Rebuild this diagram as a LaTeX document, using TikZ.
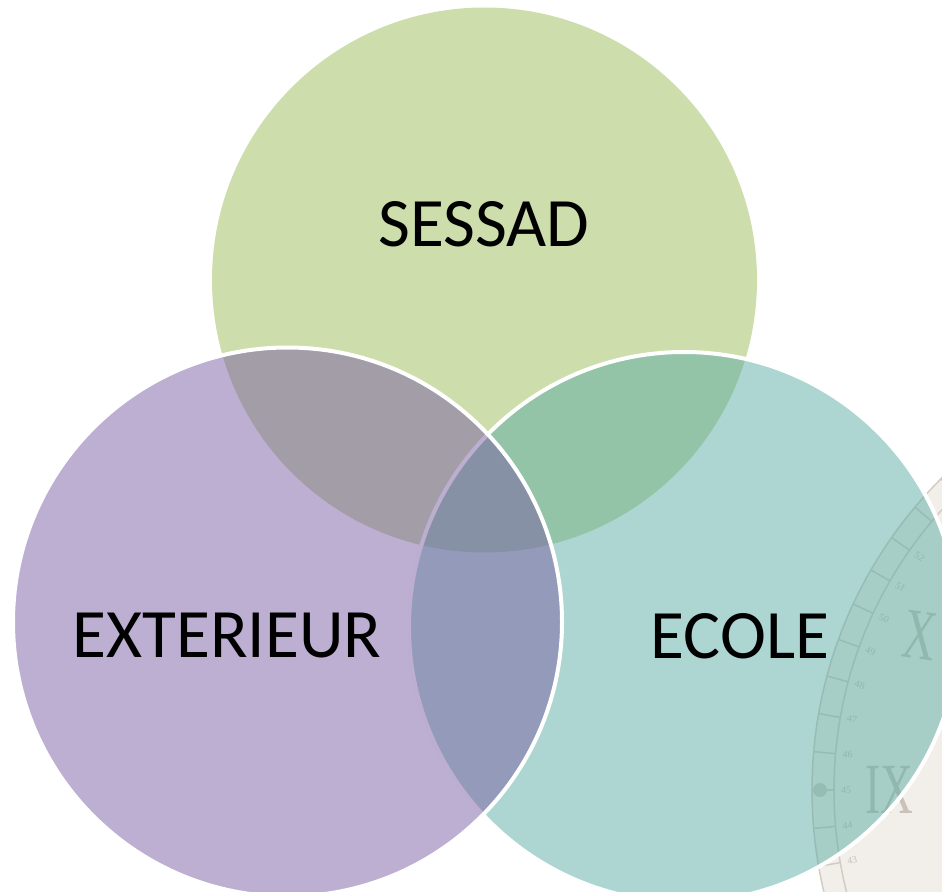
\documentclass[tikz,border=0pt]{standalone}
\usepackage{fontspec}
\usepackage{graphicx}
\setmainfont{Carlito}
\newfontfamily\numfont{Liberation Serif}
\definecolor{sgreen}{HTML}{9BBB59}
\definecolor{steal}{HTML}{5BADA5}
\definecolor{spurple}{HTML}{7B5FA3}
\definecolor{clockbg}{HTML}{F2EEE9}
\definecolor{clockln}{HTML}{D3CCC3}
\definecolor{clocktxt}{HTML}{CAC2B8}
\tikzset{
  venn/.style={circle, inner sep=0pt, outer sep=0pt, fill opacity=0.5},
  vennborder/.style={draw=white, line width=3pt},
  lbl/.style={inner sep=0pt, text=black, font=\fontsize{52}{60}\selectfont},
  clockline/.style={draw=clockln, line width=1.1pt},
  minute/.style={inner sep=0pt, text=clocktxt, font=\numfont\fontsize{7.5}{8}\selectfont},
  roman/.style={inner sep=0pt, text=clocktxt, font=\numfont\fontsize{54}{60}\selectfont},
}
\begin{document}
\begin{tikzpicture}[x=0.75pt,y=-0.75pt]
\useasboundingbox (0,0) rectangle (942,892);
\begin{scope}
\clip (0,0) rectangle (942,892);
% faint clock in the background
\coordinate (cc) at (1252,790);
\fill[clockbg] (cc) circle (440);
\draw[clockline] (cc) circle (440);
\draw[clockline] (cc) circle (418);
\foreach \m in {38,...,58} {
  \pgfmathsetmacro{\ang}{180+(\m-45)*5}
  \draw[clockline] ([shift={(cc)}]\ang:418) -- ([shift={(cc)}]\ang:440);
}
\foreach \m in {43,...,52} {
  \pgfmathsetmacro{\ang}{180+(\m-45)*5}
  \pgfmathsetmacro{\rot}{-(\m-45)*5}
  \node[minute, rotate=\rot] (min\m) at ([shift={(cc)}]\ang:406) {\m};
}
\fill[clockln] ([shift={(cc)}]180:432) circle (7);
\node[roman] (nine) at ([shift={(cc)}]180:363) {\scalebox{0.63}[1]{IX}};
\node[roman, rotate=-8] (ten) at ([shift={(cc)}]205:366) {\scalebox{0.63}[1]{X}};
% Venn circles
\node[venn, fill=sgreen, minimum size=408.75pt] (g) at (484.5,280) {};
\node[venn, fill=steal, vennborder, minimum size=412.5pt] (t) at (684,627) {};
\node[venn, fill=spurple, vennborder, minimum size=411.75pt] (p) at (287.5,622) {};
\end{scope}
% labels
\node[lbl] (sessad) at (484,224) {SESSAD};
\node[lbl] (ext) at (227,636) {EXTERIEUR};
\node[lbl] (ecole) at (740,636) {ECOLE};
\end{tikzpicture}
\end{document}
